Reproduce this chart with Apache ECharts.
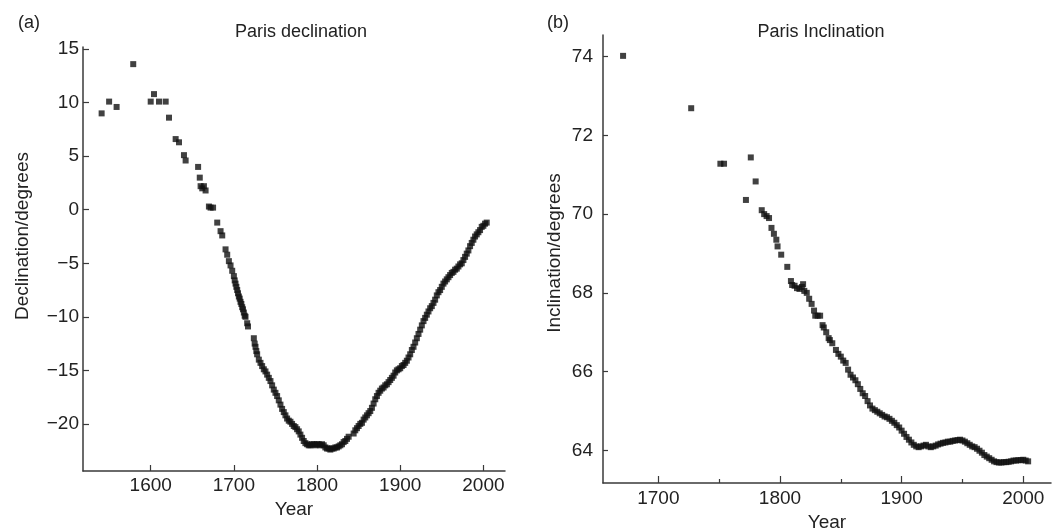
<!DOCTYPE html>
<html>
<head>
<meta charset="utf-8">
<script src="https://cdn.jsdelivr.net/npm/echarts@6/dist/echarts.min.js"></script>
<style>
  html, body { margin: 0; padding: 0; background: #fff; }
  #chart { width: 1052px; height: 531px; }
</style>
</head>
<body>
<div id="chart"></div>
<script>
// Paris declination, [year, degrees]
const declination = [
  [1541, 9.0], [1550, 10.1], [1559, 9.6], [1579, 13.6], [1600, 10.1], [1604, 10.8],
  [1610, 10.1], [1618, 10.1], [1622, 8.6], [1630, 6.6], [1634, 6.3], [1640, 5.1],
  [1642, 4.6], [1657, 4.0], [1659, 3.0], [1660, 2.2], [1662, 2.0], [1664, 2.2],
  [1666, 1.8], [1670, 0.3], [1672, 0.2], [1675, 0.2], [1680, -1.2], [1684, -2.0],
  [1686, -2.4], [1690, -3.7], [1692, -4.2], [1694, -4.8], [1696, -5.2], [1698, -5.7],
  [1700, -6.2], [1701, -6.6], [1702, -6.9], [1703, -7.2], [1704, -7.5], [1705, -7.8],
  [1706, -8.1], [1707, -8.3], [1708, -8.6], [1709, -8.8], [1710, -9.1], [1711, -9.3],
  [1712, -9.6], [1713, -9.9], [1714, -10.0], [1716, -10.6], [1717, -10.9],
  [1724, -12.0], [1725, -12.5], [1726, -12.8], [1727, -13.2], [1728, -13.5],
  [1730, -14.0], [1732, -14.3], [1734, -14.6], [1736, -14.9], [1738, -15.1],
  [1740, -15.4], [1742, -15.7], [1744, -16.0], [1746, -16.4], [1748, -16.8],
  [1750, -17.1], [1752, -17.4], [1754, -17.8], [1756, -18.2], [1758, -18.6],
  [1760, -18.9], [1762, -19.2], [1764, -19.5], [1766, -19.7], [1768, -19.8],
  [1770, -20.0], [1772, -20.2], [1774, -20.3], [1776, -20.5], [1778, -20.7],
  [1780, -21.0], [1782, -21.3], [1784, -21.6], [1786, -21.8], [1788, -21.9],
  [1790, -22.0], [1792, -22.0], [1794, -21.9], [1796, -21.9], [1798, -22.0],
  [1800, -21.9], [1802, -21.9], [1804, -22.0], [1806, -21.9], [1808, -22.0],
  [1810, -22.2], [1812, -22.3], [1814, -22.3], [1816, -22.4], [1818, -22.3],
  [1820, -22.3], [1822, -22.2], [1824, -22.2], [1826, -22.1], [1828, -22.0],
  [1830, -21.9], [1832, -21.7], [1834, -21.6], [1836, -21.4], [1838, -21.2],
  [1844, -20.9], [1846, -20.6], [1848, -20.4], [1850, -20.2], [1852, -20.0],
  [1854, -19.9], [1856, -19.6], [1858, -19.4], [1860, -19.2], [1862, -19.0],
  [1864, -18.8], [1866, -18.5], [1868, -18.1], [1870, -17.7], [1872, -17.4],
  [1874, -17.1], [1876, -16.9], [1878, -16.7], [1880, -16.6], [1882, -16.4],
  [1884, -16.3], [1886, -16.1], [1888, -15.9], [1890, -15.7], [1892, -15.5],
  [1894, -15.2], [1896, -15.0], [1898, -14.9], [1900, -14.8], [1902, -14.6],
  [1904, -14.5], [1906, -14.3], [1908, -14.1], [1910, -13.8], [1912, -13.5],
  [1914, -13.1], [1916, -12.8], [1918, -12.4], [1920, -12.0], [1922, -11.6],
  [1924, -11.2], [1926, -10.8], [1928, -10.4], [1930, -10.1], [1932, -9.8],
  [1934, -9.5], [1936, -9.2], [1938, -9.0], [1940, -8.7], [1942, -8.4],
  [1944, -8.0], [1946, -7.7], [1948, -7.5], [1950, -7.2], [1952, -6.9],
  [1954, -6.7], [1956, -6.5], [1958, -6.3], [1960, -6.1], [1962, -5.9],
  [1964, -5.8], [1966, -5.6], [1968, -5.5], [1970, -5.3], [1972, -5.1],
  [1974, -5.0], [1976, -4.7], [1978, -4.4], [1980, -4.1], [1982, -3.8],
  [1984, -3.4], [1986, -3.1], [1988, -2.8], [1990, -2.5], [1992, -2.3],
  [1994, -2.1], [1996, -1.9], [1998, -1.6], [2000, -1.5], [2002, -1.3], [2004, -1.2]
];

// Paris inclination, [year, degrees]
const inclination = [
  [1671, 74.02], [1727, 72.69], [1751, 71.28], [1754, 71.28], [1772, 70.36],
  [1776, 71.44], [1780, 70.83], [1785, 70.10], [1787, 70.0], [1789, 69.95],
  [1791, 69.9], [1793, 69.65], [1795, 69.5], [1797, 69.35], [1798, 69.18],
  [1801, 68.97], [1806, 68.66], [1809, 68.3], [1810, 68.2], [1812, 68.18],
  [1814, 68.12], [1816, 68.1], [1818, 68.15], [1819, 68.22], [1820, 68.05],
  [1822, 68.0], [1824, 67.85], [1826, 67.72], [1828, 67.55], [1829, 67.42],
  [1831, 67.42], [1833, 67.42], [1835, 67.18], [1836, 67.12], [1838, 67.0],
  [1840, 66.85], [1841, 66.8], [1843, 66.72], [1846, 66.55], [1848, 66.45],
  [1850, 66.38], [1852, 66.28], [1854, 66.22], [1856, 66.05], [1858, 65.92],
  [1860, 65.85], [1862, 65.78], [1864, 65.68], [1866, 65.56], [1868, 65.45],
  [1870, 65.38], [1872, 65.25], [1874, 65.14], [1876, 65.06], [1878, 65.02],
  [1880, 64.98], [1882, 64.94], [1884, 64.9], [1886, 64.86], [1888, 64.84],
  [1890, 64.8], [1892, 64.75], [1894, 64.7], [1896, 64.64], [1898, 64.58],
  [1900, 64.5], [1902, 64.42], [1904, 64.34], [1906, 64.27], [1908, 64.2],
  [1910, 64.14], [1912, 64.1], [1914, 64.08], [1916, 64.1], [1918, 64.12],
  [1920, 64.14], [1922, 64.1], [1924, 64.08], [1926, 64.1], [1928, 64.12],
  [1930, 64.15], [1932, 64.17], [1934, 64.19], [1936, 64.2], [1938, 64.22],
  [1940, 64.22], [1942, 64.24], [1944, 64.25], [1946, 64.26], [1948, 64.27],
  [1950, 64.25], [1952, 64.22], [1954, 64.18], [1956, 64.14], [1958, 64.1],
  [1960, 64.08], [1962, 64.04], [1964, 63.99], [1966, 63.94], [1968, 63.88],
  [1970, 63.84], [1972, 63.8], [1974, 63.76], [1976, 63.72], [1978, 63.7],
  [1980, 63.69], [1982, 63.69], [1984, 63.7], [1986, 63.7], [1988, 63.71],
  [1990, 63.72], [1992, 63.74], [1994, 63.74], [1996, 63.75], [1998, 63.75],
  [2000, 63.76], [2002, 63.74], [2004, 63.72]
];

// Tick positions
const declYearTicks = [1600, 1700, 1800, 1900, 2000];
const declValueTicks = [-20, -15, -10, -5, 0, 5, 10, 15];
const inclYearTicks = [1700, 1800, 1900, 2000];
const inclMinorYearTicks = [1750, 1850, 1950];
const inclValueTicks = [64, 66, 68, 70, 72, 74];

const FONT = 'Liberation Sans, Arial, Helvetica, sans-serif';
const INK = '#222';
const AXIS = '#3a3a3a';
const minus = v => String(v).replace('-', '\u2212');
const plain = v => String(v);

const axisLine = { show: true, onZero: false, lineStyle: { color: AXIS, width: 1.5 } };
const labelStyle = { color: INK, fontFamily: FONT, fontSize: 19 };
const titleStyle = { color: INK, fontFamily: FONT, fontSize: 18, fontWeight: 'normal' };

const chart = echarts.init(document.getElementById('chart'), null, { renderer: 'canvas' });

chart.setOption({
  backgroundColor: '#fff',
  animation: false,
  title: [
    { text: '(a)', left: 13, top: 9, textStyle: titleStyle },
    { text: '(b)', left: 542, top: 9, textStyle: titleStyle },
    { text: 'Paris declination', left: 296, top: 18, textAlign: 'center', textStyle: titleStyle },
    { text: 'Paris Inclination', left: 816, top: 18, textAlign: 'center', textStyle: titleStyle }
  ],
  grid: [
    { left: 83, top: 47, right: 547, bottom: 60, containLabel: false, outerBoundsMode: 'none' },
    { left: 603, top: 35, right: 1, bottom: 48, containLabel: false, outerBoundsMode: 'none' }
  ],
  xAxis: [
    {
      gridIndex: 0, type: 'value', min: 1518.6, max: 2026,
      name: 'Year', nameLocation: 'middle', nameGap: 26,
      nameTextStyle: labelStyle,
      axisLine: axisLine,
      axisTick: { show: true, inside: true, length: 6, customValues: declYearTicks, lineStyle: { color: AXIS, width: 1.2 } },
      axisLabel: Object.assign({ margin: 5, customValues: declYearTicks, formatter: plain }, labelStyle),
      splitLine: { show: false }
    },
    {
      gridIndex: 1, type: 'value', min: 1654.5, max: 2022.8,
      name: 'Year', nameLocation: 'middle', nameGap: 29,
      nameTextStyle: labelStyle,
      axisLine: axisLine,
      axisTick: { show: true, inside: true, length: 7, customValues: inclYearTicks, lineStyle: { color: AXIS, width: 1.2 } },
      axisLabel: Object.assign({ margin: 6, customValues: inclYearTicks, formatter: plain }, labelStyle),
      splitLine: { show: false }
    },
    {
      // shorter ticks at the half-century marks
      gridIndex: 1, type: 'value', min: 1654.5, max: 2022.8, position: 'bottom',
      axisLine: { show: false, onZero: false },
      axisTick: { show: true, inside: true, length: 4, customValues: inclMinorYearTicks, lineStyle: { color: AXIS, width: 1.2 } },
      axisLabel: { show: false },
      splitLine: { show: false }
    }
  ],
  yAxis: [
    {
      gridIndex: 0, type: 'value', min: -24.4, max: 15.2,
      name: 'Declination/degrees', nameLocation: 'middle', nameGap: 51,
      nameTextStyle: Object.assign({ padding: [0, 0, 0, 46] }, labelStyle),
      axisLine: axisLine,
      axisTick: { show: true, inside: true, length: 6, customValues: declValueTicks, lineStyle: { color: AXIS, width: 1.2 } },
      axisLabel: Object.assign({ margin: 4, customValues: declValueTicks, formatter: minus }, labelStyle),
      splitLine: { show: false }
    },
    {
      gridIndex: 1, type: 'value', min: 63.17, max: 74.55,
      name: 'Inclination/degrees', nameLocation: 'middle', nameGap: 39,
      nameTextStyle: Object.assign({ padding: [0, 0, 0, 12] }, labelStyle),
      axisLine: axisLine,
      axisTick: { show: true, inside: true, length: 5, customValues: inclValueTicks, lineStyle: { color: AXIS, width: 1.2 } },
      axisLabel: Object.assign({ margin: 10, customValues: inclValueTicks, formatter: plain }, labelStyle),
      splitLine: { show: false }
    }
  ],
  series: [
    {
      type: 'scatter', xAxisIndex: 0, yAxisIndex: 0,
      data: declination, symbol: 'rect', symbolSize: 6,
      itemStyle: { color: '#111' }
    },
    {
      type: 'scatter', xAxisIndex: 1, yAxisIndex: 1,
      data: inclination, symbol: 'rect', symbolSize: 6,
      itemStyle: { color: '#111' }
    }
  ]
});
</script>
</body>
</html>
